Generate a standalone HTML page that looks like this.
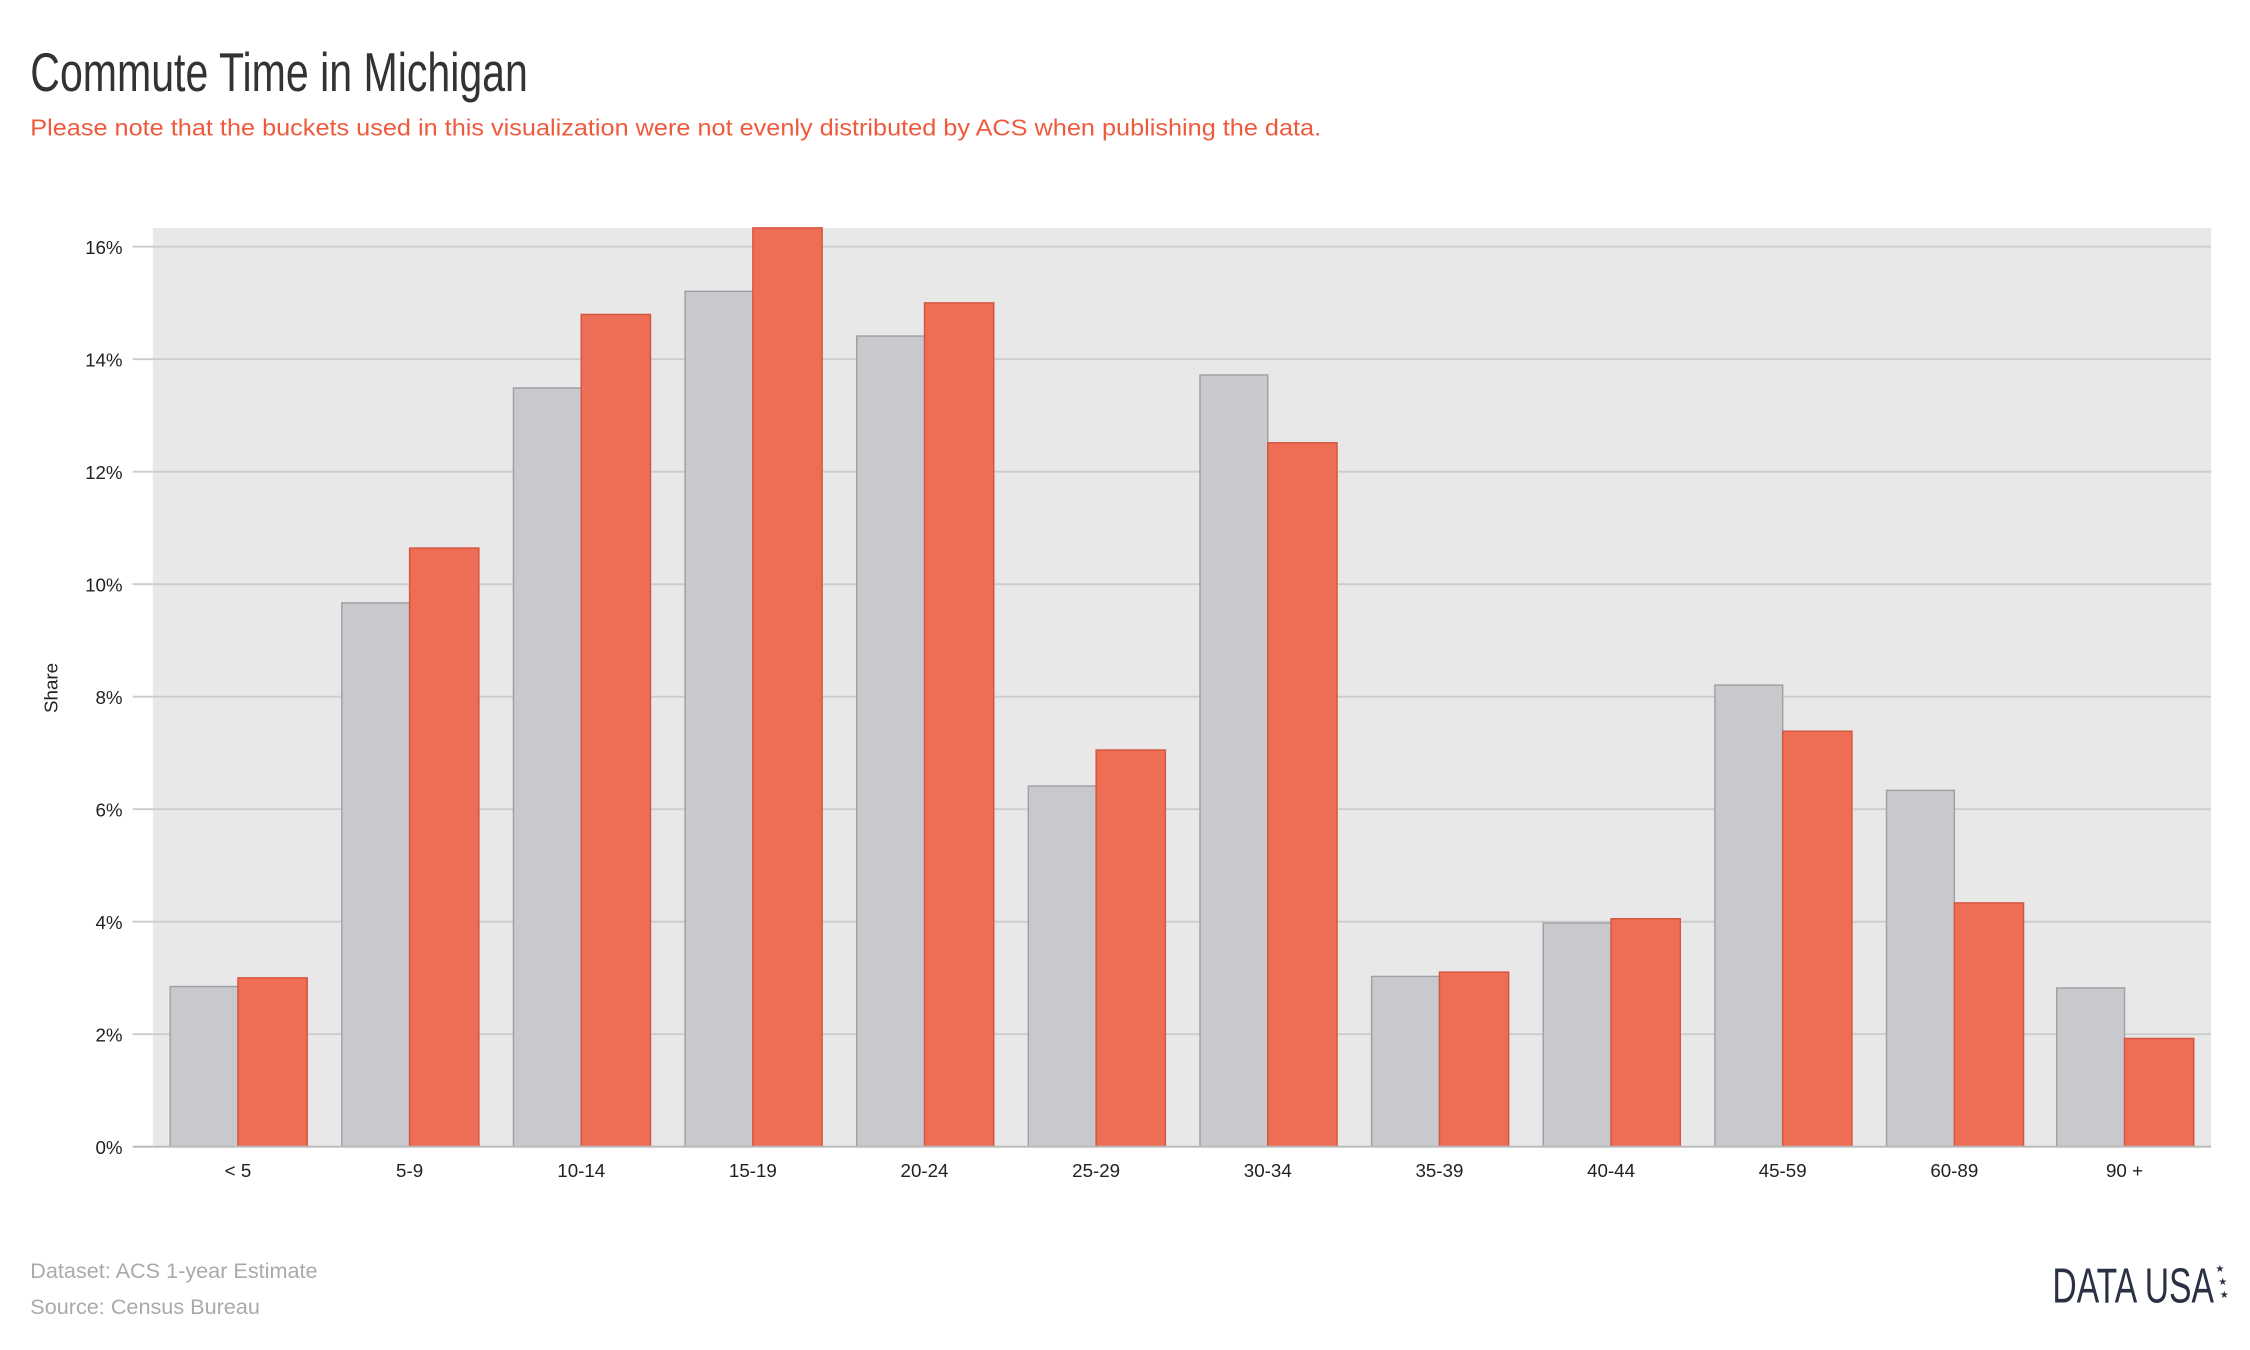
<!DOCTYPE html>
<html><head><meta charset="utf-8"><style>
html,body{margin:0;padding:0;background:#fff;width:2250px;height:1350px;overflow:hidden}
svg{display:block}
</style></head><body>
<svg width="2250" height="1350" viewBox="0 0 1560 936" xmlns="http://www.w3.org/2000/svg">
<text x="21" y="63" font-family="'Liberation Sans Narrow','Liberation Sans',sans-serif" font-size="38" fill="#333" textLength="345" lengthAdjust="spacingAndGlyphs">Commute Time in Michigan</text>
<text x="21" y="94" font-family="'Liberation Sans',sans-serif" font-size="16" fill="#ef5a3c" textLength="895" lengthAdjust="spacingAndGlyphs">Please note that the buckets used in this visualization were not evenly distributed by ACS when publishing the data.</text>
<rect x="106" y="158" width="1427" height="637" fill="#e8e8e8"/>
<g stroke="#cccccc" stroke-width="1.3">
<line x1="92" y1="795" x2="1533" y2="795"/>
<line x1="92" y1="717" x2="1533" y2="717"/>
<line x1="92" y1="639" x2="1533" y2="639"/>
<line x1="92" y1="561" x2="1533" y2="561"/>
<line x1="92" y1="483" x2="1533" y2="483"/>
<line x1="92" y1="405" x2="1533" y2="405"/>
<line x1="92" y1="327" x2="1533" y2="327"/>
<line x1="92" y1="249" x2="1533" y2="249"/>
<line x1="92" y1="171" x2="1533" y2="171"/>
</g>
<g font-family="'Liberation Sans',sans-serif" font-size="13" fill="#222" text-anchor="end">
<text x="85" y="800">0%</text><text x="85" y="722">2%</text><text x="85" y="644">4%</text>
<text x="85" y="566">6%</text><text x="85" y="488">8%</text><text x="85" y="410">10%</text>
<text x="85" y="332">12%</text><text x="85" y="254">14%</text><text x="85" y="176">16%</text>
</g>
<text transform="translate(40,477) rotate(-90)" font-family="'Liberation Sans',sans-serif" font-size="13" fill="#222" text-anchor="middle">Share</text>
<g stroke-width="1">
<g fill="#c8c9cd" stroke="#a0a0a4">
<rect x="118" y="684" width="47" height="111"/>
<rect x="237" y="418" width="47" height="377"/>
<rect x="356" y="269" width="47" height="526"/>
<rect x="475" y="202" width="47" height="593"/>
<rect x="594" y="233" width="47" height="562"/>
<rect x="713" y="545" width="47" height="250"/>
<rect x="832" y="260" width="47" height="535"/>
<rect x="951" y="677" width="47" height="118"/>
<rect x="1070" y="640" width="47" height="155"/>
<rect x="1189" y="475" width="47" height="320"/>
<rect x="1308" y="548" width="47" height="247"/>
<rect x="1426" y="685" width="47" height="110"/>
</g>
<g fill="#ed6d55" stroke="#d4553f">
<rect x="165" y="678" width="48" height="117"/>
<rect x="284" y="380" width="48" height="415"/>
<rect x="403" y="218" width="48" height="577"/>
<rect x="522" y="158" width="48" height="637"/>
<rect x="641" y="210" width="48" height="585"/>
<rect x="760" y="520" width="48" height="275"/>
<rect x="879" y="307" width="48" height="488"/>
<rect x="998" y="674" width="48" height="121"/>
<rect x="1117" y="637" width="48" height="158"/>
<rect x="1236" y="507" width="48" height="288"/>
<rect x="1355" y="626" width="48" height="169"/>
<rect x="1473" y="720" width="48" height="75"/>
</g>
</g>
<line x1="92" y1="795" x2="1533" y2="795" stroke="#bbb" stroke-width="1.3"/>
<g font-family="'Liberation Sans',sans-serif" font-size="13" fill="#222" text-anchor="middle">
<text x="165" y="816">&lt; 5</text><text x="284" y="816">5-9</text><text x="403" y="816">10-14</text>
<text x="522" y="816">15-19</text><text x="641" y="816">20-24</text><text x="760" y="816">25-29</text>
<text x="879" y="816">30-34</text><text x="998" y="816">35-39</text><text x="1117" y="816">40-44</text>
<text x="1236" y="816">45-59</text><text x="1355" y="816">60-89</text><text x="1473" y="816">90 +</text>
</g>
<g font-family="'Liberation Sans',sans-serif" font-size="15" fill="#aaa">
<text x="21" y="886">Dataset: ACS 1-year Estimate</text>
<text x="21" y="911">Source: Census Bureau</text>
</g>
<text x="1423" y="903" font-family="'Liberation Sans Narrow','Liberation Sans',sans-serif" font-size="34" fill="#2a3142" textLength="112" lengthAdjust="spacingAndGlyphs">DATA USA</text>
<g fill="#2a3142" font-family="'DejaVu Sans',sans-serif" font-size="7">
<text x="1536" y="882">★</text><text x="1538" y="891">★</text><text x="1539" y="900">★</text>
</g>
</svg>
</body></html>
